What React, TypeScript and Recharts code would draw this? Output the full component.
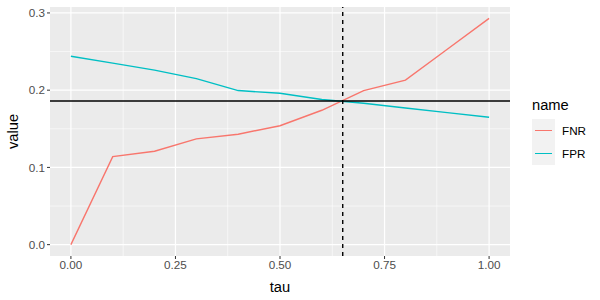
import {
  LineChart,
  Line,
  XAxis,
  YAxis,
  CartesianGrid,
  ReferenceLine,
} from 'recharts';

const tau = [0, 0.1, 0.2, 0.3, 0.4, 0.5, 0.6, 0.7, 0.8, 0.9, 1.0];
const fnr = [0, 0.114, 0.121, 0.137, 0.143, 0.154, 0.174, 0.1995, 0.213, 0.253, 0.293];
const fpr = [0.244, 0.235, 0.226, 0.215, 0.1995, 0.196, 0.188, 0.183, 0.177, 0.171, 0.165];

const xTicks = [0, 0.25, 0.5, 0.75, 1];
const xMinor = [0.125, 0.375, 0.625, 0.875];
const yTicks = [0, 0.1, 0.2, 0.3];
const yMinor = [0.05, 0.15, 0.25];

const cutTau = 0.65;
const cutValue = 0.186;

const series = [
  { key: 'FNR', color: '#F8766D' },
  { key: 'FPR', color: '#00BFC4' },
];

const data = tau.map((t, i) => ({ tau: t, FNR: fnr[i], FPR: fpr[i] }));

const font = '"Liberation Sans", Arial, sans-serif';

function YLabel(props: any) {
  const vb = props.viewBox || { x: 0, y: 7, width: 50, height: 249 };
  const x = vb.x + 13;
  const y = vb.y + vb.height / 2;
  return (
    <text
      x={x}
      y={y}
      transform={`rotate(-90 ${x} ${y})`}
      textAnchor="middle"
      dominantBaseline="central"
      fontSize={14.7}
      fill="#000"
      fontFamily={font}
    >
      value
    </text>
  );
}

export default function App() {
  return (
    <div style={{ position: 'absolute', left: 0, top: 0, width: 600, height: 300, background: '#fff', fontFamily: font }}>
      <LineChart width={600} height={300} data={data} margin={{ top: 7, right: 90, left: 0, bottom: 0 }}>
        <CartesianGrid fill="#EBEBEB" horizontal={false} vertical={false} />
        {xMinor.map((v) => (
          <ReferenceLine key={'xm' + v} x={v} stroke="#fff" strokeWidth={0.6} />
        ))}
        {yMinor.map((v) => (
          <ReferenceLine key={'ym' + v} y={v} stroke="#fff" strokeWidth={0.6} />
        ))}
        {xTicks.map((v) => (
          <ReferenceLine key={'x' + v} x={v} stroke="#fff" strokeWidth={1.2} />
        ))}
        {yTicks.map((v) => (
          <ReferenceLine key={'y' + v} y={v} stroke="#fff" strokeWidth={1.2} />
        ))}
        <XAxis
          dataKey="tau"
          type="number"
          domain={[-0.05, 1.05]}
          ticks={xTicks}
          tickFormatter={(v: number) => v.toFixed(2)}
          axisLine={false}
          tickLine={{ stroke: '#333333' }}
          tickSize={3}
          tickMargin={2}
          tick={{ fill: '#4D4D4D', fontSize: 11.7, fontFamily: font }}
          height={44}
          allowDataOverflow
          label={{ value: 'tau', position: 'insideBottom', offset: 8, fill: '#000', fontSize: 14.7, fontFamily: font }}
        />
        <YAxis
          type="number"
          domain={[-0.0147, 0.3077]}
          ticks={yTicks}
          tickFormatter={(v: number) => v.toFixed(1)}
          axisLine={false}
          tickLine={{ stroke: '#333333' }}
          tickSize={3}
          tickMargin={2}
          tick={{ fill: '#4D4D4D', fontSize: 11.7, fontFamily: font }}
          width={50}
          allowDataOverflow
          label={<YLabel />}
        />
        {series.map((s) => (
          <Line
            key={s.key}
            dataKey={s.key}
            stroke={s.color}
            strokeWidth={1.4}
            dot={false}
            activeDot={false}
            isAnimationActive={false}
            type="linear"
          />
        ))}
        <ReferenceLine x={cutTau} stroke="#000" strokeWidth={1.4} strokeDasharray="4 4" />
        <ReferenceLine y={cutValue} stroke="#000" strokeWidth={1.5} />
      </LineChart>
      <div style={{ position: 'absolute', left: 532, top: 96, fontFamily: font }}>
        <div style={{ fontSize: 14.7, color: '#000', height: 23, lineHeight: '18px' }}>name</div>
        {series.map((s) => (
          <div key={s.key} style={{ display: 'flex', alignItems: 'center', height: 23 }}>
            <div style={{ width: 23, height: 23, background: '#F2F2F2', position: 'relative' }}>
              <div style={{ position: 'absolute', left: 3, right: 3, top: 11, height: 1.4, background: s.color }} />
            </div>
            <span style={{ fontSize: 11.7, color: '#000', marginLeft: 7 }}>{s.key}</span>
          </div>
        ))}
      </div>
    </div>
  );
}
